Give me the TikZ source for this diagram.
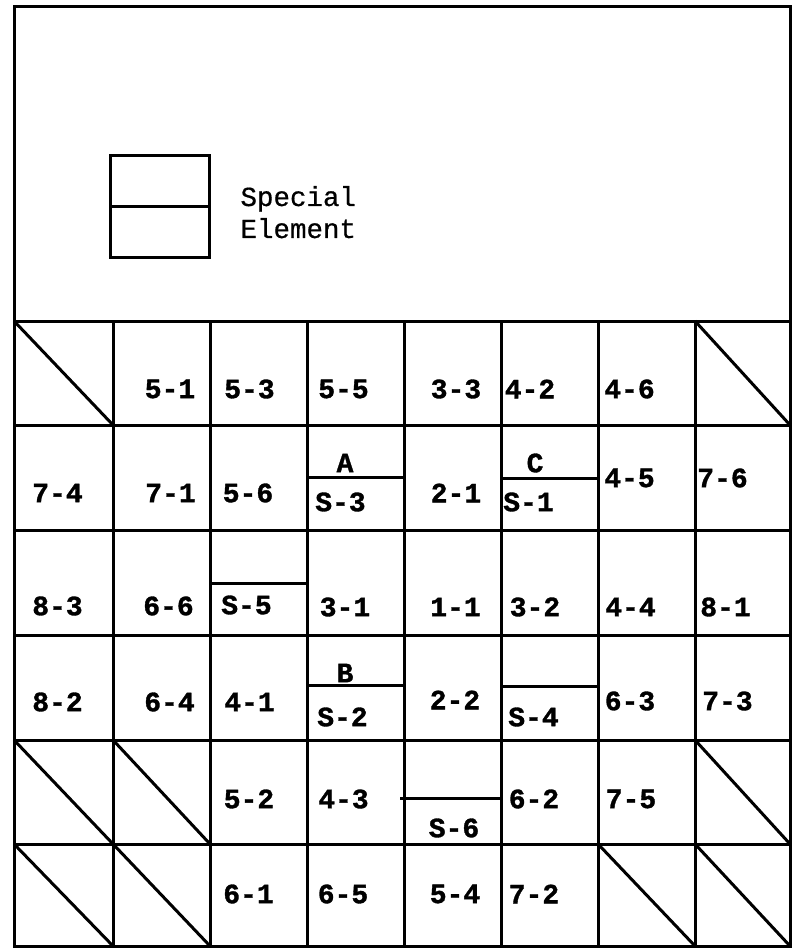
\documentclass[tikz,border=0pt]{standalone}
\usepackage{fontspec}
\setmonofont{Liberation Mono}[BoldFeatures={FakeBold=1.2}]
\newfontfamily\legendfont{Liberation Mono}[FakeBold=0.6]
\begin{document}
\begin{tikzpicture}[x=1pt,y=-1pt,line width=3pt,
  lab/.style={font=\ttfamily\bfseries\fontsize{28}{30}\selectfont,inner sep=0pt,anchor=center},
  legend/.style={font=\legendfont\fontsize{27.5}{32}\selectfont,inner sep=0pt,anchor=base west}]
\useasboundingbox (0,0) rectangle (798,949);
% outer frame
\draw (14,7) rectangle (790,946);
% legend box
\draw (110,156) rectangle (209,258);
\draw (110,207) -- (209,207);
\node[legend] (sp) at (239,206) {Special};
\node[legend] (el) at (239,238) {Element};
% horizontal grid lines
\foreach \y in {321,425,530,635,740,844} \draw (14,\y) -- (790,\y);
% vertical grid lines
\foreach \x in {113,210,307,404,501,598,695} \draw (\x,321) -- (\x,946);
% diagonals (empty cells)
\draw (14,321) -- (113,425);
\draw (695,321) -- (790,425);
\draw (14,740) -- (113,844);
\draw (113,740) -- (210,844);
\draw (695,740) -- (790,844);
\draw (14,844) -- (113,946);
\draw (113,844) -- (210,946);
\draw (598,844) -- (695,946);
\draw (695,844) -- (790,946);
% special element separators
\draw (307,477) -- (404,477);
\draw (501,478) -- (598,478);
\draw (210,583) -- (307,583);
\draw (307,685) -- (404,685);
\draw (501,686) -- (598,686);
\draw (400,798) -- (501,798);
% row 1
\node[lab] (c51) at (170,389) {5-1};
\node[lab] (c53) at (249.5,389) {5-3};
\node[lab] (c55) at (343.5,389) {5-5};
\node[lab] (c33) at (456,389) {3-3};
\node[lab] (c42) at (530,389) {4-2};
\node[lab] (c46) at (629.5,389) {4-6};
% row 2
\node[lab] (c74) at (57.5,493) {7-4};
\node[lab] (c71) at (170.5,493) {7-1};
\node[lab] (c56) at (248,493) {5-6};
\node[lab] (cA) at (345,463) {A};
\node[lab] (cS3) at (340.5,502) {S-3};
\node[lab] (c21) at (456,493) {2-1};
\node[lab] (cC) at (535,463) {C};
\node[lab] (cS1) at (528.5,502) {S-1};
\node[lab] (c45) at (629.5,478) {4-5};
\node[lab] (c76) at (722.5,478) {7-6};
% row 3
\node[lab] (c83) at (57.5,606) {8-3};
\node[lab] (c66) at (168.5,606) {6-6};
\node[lab] (cS5) at (246.5,605) {S-5};
\node[lab] (c31) at (345,607) {3-1};
\node[lab] (c11) at (455.5,607) {1-1};
\node[lab] (c32) at (535,607) {3-2};
\node[lab] (c44) at (630.5,607) {4-4};
\node[lab] (c81) at (725.5,607) {8-1};
% row 4
\node[lab] (c82) at (57.5,702) {8-2};
\node[lab] (c64) at (169.5,702) {6-4};
\node[lab] (c41) at (249.5,702) {4-1};
\node[lab] (cB) at (345,673) {B};
\node[lab] (cS2) at (342.5,717) {S-2};
\node[lab] (c22) at (455,700) {2-2};
\node[lab] (cS4) at (533.5,717) {S-4};
\node[lab] (c63) at (630,701) {6-3};
\node[lab] (c73) at (727.5,701) {7-3};
% row 5
\node[lab] (c52) at (249,799) {5-2};
\node[lab] (c43) at (343.5,799) {4-3};
\node[lab] (cS6) at (454,828) {S-6};
\node[lab] (c62) at (534,799) {6-2};
\node[lab] (c75) at (631,799) {7-5};
% row 6
\node[lab] (c61) at (248.5,894) {6-1};
\node[lab] (c65) at (343,894) {6-5};
\node[lab] (c54) at (455,894) {5-4};
\node[lab] (c72) at (534,894) {7-2};
\end{tikzpicture}
\end{document}
